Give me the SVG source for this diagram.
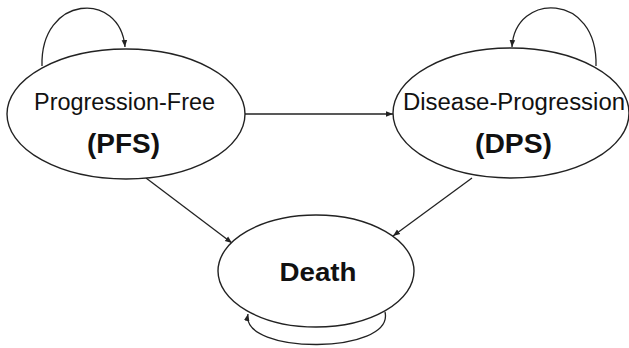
<svg xmlns="http://www.w3.org/2000/svg" width="629" height="348" viewBox="0 0 629 348">
<style>
.node{fill:#fff;stroke:#222;stroke-width:1.4}
.edge{fill:none;stroke:#222;stroke-width:1.3}
.t{font-family:"Liberation Sans",Arial,sans-serif;fill:#111;text-anchor:middle}
.b{font-weight:bold}
</style>
<defs>
<marker id="ah" viewBox="0 0 10 10" refX="10" refY="5" markerWidth="7" markerHeight="7" markerUnits="userSpaceOnUse" orient="auto">
<path d="M0,1 L10,5 L0,9 z" fill="#222"/>
</marker>
</defs>
<rect width="629" height="348" fill="#fff"/>
<g id="connectors">
<path class="edge" d="M42,66 C40,-5 120,-10 125,47" marker-end="url(#ah)"/>
<path class="edge" d="M596,66 C598,-8 515,-8 512,47" marker-end="url(#ah)"/>
<path class="edge" d="M385,312 C395,355 240,355 248,314" marker-end="url(#ah)"/>
<path class="edge" d="M245,114 L393,114" marker-end="url(#ah)"/>
<path class="edge" d="M146,178 L232,243" marker-end="url(#ah)"/>
<path class="edge" d="M472,178 L393,236" marker-end="url(#ah)"/>
</g>
<g id="pfs">
<ellipse class="node" cx="126" cy="114" rx="119" ry="65"/>
<text class="t" x="124.5" y="110" font-size="23" textLength="181" lengthAdjust="spacingAndGlyphs">Progression-Free</text>
<text class="t b" x="123.5" y="153" font-size="27" textLength="73" lengthAdjust="spacingAndGlyphs">(PFS)</text>
</g>
<g id="dps">
<ellipse class="node" cx="511" cy="113" rx="118" ry="65"/>
<text class="t" x="514" y="110" font-size="23" textLength="222" lengthAdjust="spacingAndGlyphs">Disease-Progression</text>
<text class="t b" x="513.5" y="153" font-size="27" textLength="77" lengthAdjust="spacingAndGlyphs">(DPS)</text>
</g>
<g id="death">
<ellipse class="node" cx="316" cy="271" rx="98" ry="56"/>
<text class="t b" x="318" y="281" font-size="25" textLength="77" lengthAdjust="spacingAndGlyphs">Death</text>
</g>
</svg>
